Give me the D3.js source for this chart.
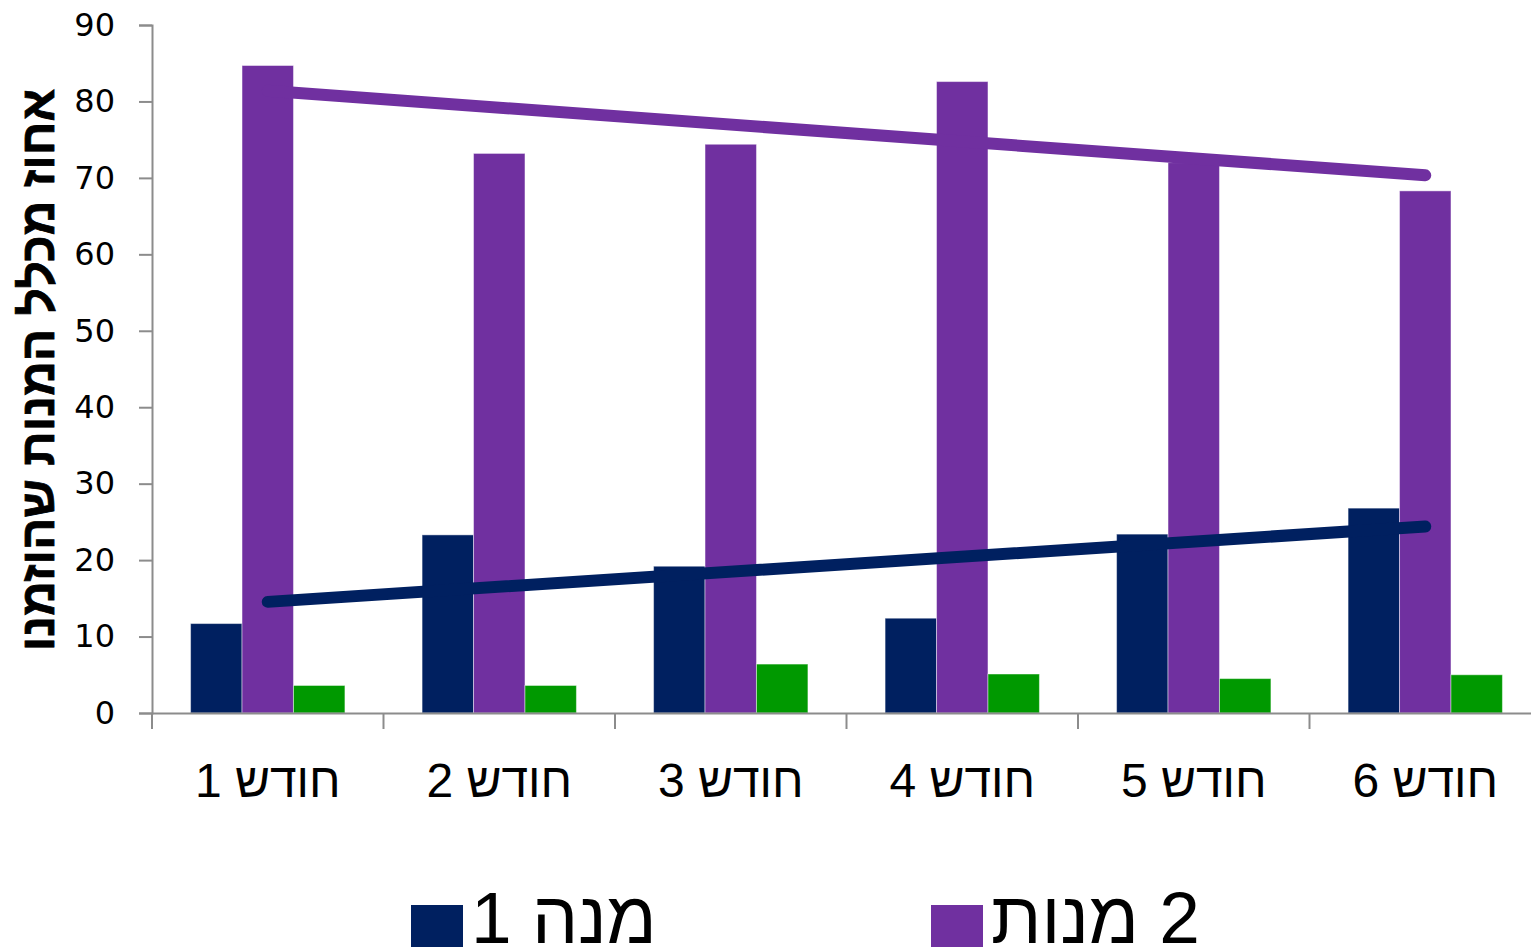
<!DOCTYPE html>
<html><head><meta charset="utf-8">
<script src="https://cdn.jsdelivr.net/npm/d3@7"></script>
<style>html,body{margin:0;padding:0;background:#fff;overflow:hidden}</style>
</head><body>
<svg id="c" width="1531" height="950"></svg>
<script>
const categories = ["חודש 1", "חודש 2", "חודש 3", "חודש 4", "חודש 5", "חודש 6"];
const seriesNames = ["מנה 1", "2 מנות", "3 מנות"];
const oneDish = [11.7, 23.3, 19.2, 12.4, 23.4, 26.8];
const twoDishes = [84.7, 73.2, 74.4, 82.6, 72.0, 68.3];
const threeDishes = [3.6, 3.6, 6.4, 5.1, 4.5, 5.0];
const yTicks = [0, 10, 20, 30, 40, 50, 60, 70, 80, 90];
const colors = ["#002060", "#7030A0", "#009900"];
const yTitle = "אחוז מכלל המנות שהוזמנו";

const series = [oneDish, twoDishes, threeDishes];
const svg = d3.select("#c");
const L = 152, R = 1541, T = 25, B = 713;
const x = d3.scaleBand().domain(categories).range([L, R]).padding(0);
const bw = x.bandwidth();
const barW = bw / 4.5;
const xs = d3.scaleBand().domain(seriesNames).range([0.75 * barW, 3.75 * barW]).padding(0);
const y = d3.scaleLinear().domain([0, 90]).range([B, T]);

// bars
series.forEach((vals, si) => {
  svg.append("g").selectAll("rect").data(vals).join("rect")
    .attr("x", (d, i) => x(categories[i]) + xs(seriesNames[si]))
    .attr("y", d => y(d))
    .attr("width", xs.bandwidth())
    .attr("height", d => y(0) - y(d))
    .attr("fill", colors[si])
    .attr("stroke", "rgba(255,255,255,0.45)")
    .attr("stroke-width", 1);
});

// linear trend lines
function trend(vals) {
  const n = vals.length, xsI = vals.map((_, i) => i + 1);
  const mx = d3.mean(xsI), my = d3.mean(vals);
  const sxy = d3.sum(vals, (v, i) => (xsI[i] - mx) * (v - my));
  const sxx = d3.sum(xsI, v => (v - mx) * (v - mx));
  const b = sxy / sxx, a = my - b * mx;
  return [1, n].map(t => [t, a + b * t]);
}
const cx = t => x(categories[t - 1]) + bw / 2;
[0, 1].forEach(si => {
  svg.append("path")
    .attr("d", d3.line().x(p => cx(p[0])).y(p => y(p[1]))(trend(series[si])))
    .attr("stroke", colors[si]).attr("stroke-width", 12)
    .attr("stroke-linecap", "round").attr("fill", "none");
});

// y axis
const yAxis = svg.append("g").attr("transform", `translate(${L},0)`)
  .call(d3.axisLeft(y).tickValues(yTicks).tickSize(13).tickPadding(24).tickFormat(d3.format("d")));
yAxis.select(".domain").attr("stroke", "#8c8c8c").attr("stroke-width", 2);
yAxis.selectAll(".tick line").attr("stroke", "#8c8c8c").attr("stroke-width", 2);
yAxis.selectAll(".tick text").attr("font-family", "DejaVu Sans").attr("font-size", 32).attr("fill", "#000");

// x axis
const xAxis = svg.append("g").attr("transform", `translate(0,${B})`)
  .call(d3.axisBottom(x).tickSize(0).tickPadding(0));
xAxis.select(".domain").attr("stroke", "#8c8c8c").attr("stroke-width", 2);
xAxis.selectAll(".tick text").remove();
xAxis.selectAll(".tick line").remove();
const bounds = categories.map(c => x(c)).concat([R]);
xAxis.selectAll("line.sep").data(bounds).join("line").attr("class", "sep")
  .attr("x1", d => d).attr("x2", d => d).attr("y1", 0).attr("y2", 16)
  .attr("stroke", "#8c8c8c").attr("stroke-width", 2);
svg.append("g").selectAll("text").data(categories).join("text")
  .attr("x", d => x(d) + bw / 2).attr("y", 797)
  .attr("text-anchor", "middle").attr("direction", "rtl")
  .attr("font-family", "Liberation Sans, Arial, sans-serif").attr("font-size", 48)
  .text(d => d);

// y title
svg.append("text")
  .attr("transform", "translate(54,370) rotate(-90)")
  .attr("text-anchor", "middle").attr("direction", "rtl")
  .attr("font-family", "Liberation Sans, Arial, sans-serif").attr("font-weight", "bold").attr("font-size", 48)
  .attr("stroke", "#000").attr("stroke-width", 0.8)
  .text(yTitle);

// legend (first two entries visible)
const legendX = [411, 931];
const lg = svg.append("g").selectAll("g").data(seriesNames.slice(0, 2)).join("g")
  .attr("transform", (d, i) => `translate(${legendX[i]},0)`);
lg.append("rect").attr("x", 0).attr("y", 905).attr("width", 52).attr("height", 42)
  .attr("fill", (d, i) => colors[i]);
lg.append("text").attr("x", 60).attr("y", 943).attr("text-anchor", "end").attr("direction", "rtl")
  .attr("font-family", "Liberation Sans Narrow, Arial Narrow, sans-serif").attr("font-size", 73)
  .text(d => d);
</script>
</body></html>
